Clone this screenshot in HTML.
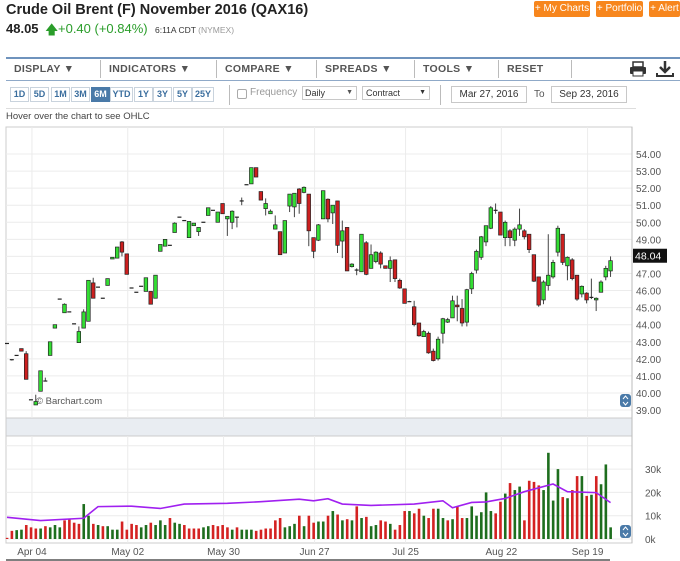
<!DOCTYPE html>
<html><head><meta charset="utf-8">
<style>
*{margin:0;padding:0;box-sizing:border-box}
body{width:680px;height:561px;overflow:hidden;background:#fff;font-family:"Liberation Sans",Arial,sans-serif;position:relative}
.a{position:absolute;white-space:nowrap}
.ob{position:absolute;top:1px;height:16px;background:#f7861d;color:#fff;font-size:10px;line-height:16px;text-align:center;border-radius:2px}
.tb{position:absolute;top:63px;font-size:10.5px;font-weight:bold;color:#555;letter-spacing:.3px}
.sep{position:absolute;top:60px;width:1px;height:18px;background:#bbb}
.rb{position:absolute;top:87px;height:15px;width:19px;border:1px solid #c9d3dd;font-size:9px;line-height:13px;text-align:center;color:#3b6e9e;font-weight:bold;background:#fff}
.box{position:absolute;border:1px solid #c8c8c8;font-size:10px;color:#333;background:#fff}
</style></head><body>
<div class="a" style="left:6px;top:2px;font-size:14.5px;font-weight:bold;color:#222">Crude Oil Brent (F) November 2016 (QAX16)</div>
<div class="a" style="left:6px;top:21px;font-size:13px;font-weight:bold;color:#222">48.05</div>
<div class="a" style="left:45px;top:21px;font-size:13px;color:#2a9d2a">&#129093;</div>
<div class="a" style="left:58px;top:21px;font-size:13px;color:#2a9d2a">+0.40 (+0.84%)</div>
<div class="a" style="left:155px;top:25px;font-size:8.5px;color:#333">6:11A CDT <span style="color:#999">(NYMEX)</span></div>
<div class="ob" style="left:534px;width:56px">+ My Charts</div>
<div class="ob" style="left:596px;width:47px">+ Portfolio</div>
<div class="ob" style="left:649px;width:31px">+ Alert</div>

<div class="a" style="left:6px;top:57px;width:674px;height:2px;background:#6f93bd"></div>
<div class="a" style="left:6px;top:80px;width:674px;height:1px;background:#8fa9c8"></div>
<div class="tb" style="left:14px">DISPLAY &#9660;</div>
<div class="sep" style="left:100px"></div>
<div class="tb" style="left:109px">INDICATORS &#9660;</div>
<div class="sep" style="left:216px"></div>
<div class="tb" style="left:225px">COMPARE &#9660;</div>
<div class="sep" style="left:316px"></div>
<div class="tb" style="left:325px">SPREADS &#9660;</div>
<div class="sep" style="left:414px"></div>
<div class="tb" style="left:423px">TOOLS &#9660;</div>
<div class="sep" style="left:498px"></div>
<div class="tb" style="left:507px">RESET</div>
<div class="sep" style="left:571px"></div>
<svg class="a" style="left:629px;top:61px" width="18" height="16"><rect x="4" y="1" width="10" height="5" fill="none" stroke="#333" stroke-width="1.5"/><rect x="1" y="6" width="16" height="7" rx="1" fill="#333"/><rect x="4" y="10" width="10" height="5" fill="#fff" stroke="#333"/></svg>
<svg class="a" style="left:656px;top:60px" width="18" height="18"><path d="M9 1v10M4 7l5 5 5-5" stroke="#333" stroke-width="2.5" fill="none"/><path d="M1 13v3h16v-3" stroke="#333" stroke-width="2" fill="none"/></svg>

<div class="rb" style="left:10px">1D</div>
<div class="rb" style="left:30px">5D</div>
<div class="rb" style="left:51px">1M</div>
<div class="rb" style="left:71px">3M</div>
<div class="rb" style="left:91px;background:#4a7aa8;color:#fff;border-color:#4a7aa8">6M</div>
<div class="rb" style="left:110px;width:23px">YTD</div>
<div class="rb" style="left:134px">1Y</div>
<div class="rb" style="left:153px">3Y</div>
<div class="rb" style="left:173px">5Y</div>
<div class="rb" style="left:192px;width:22px">25Y</div>
<div class="sep" style="left:229px;top:85px;height:20px"></div>
<div class="a" style="left:237px;top:89px;width:10px;height:10px;border:1px solid #aaa;border-radius:2px"></div>
<div class="a" style="left:250px;top:87px;font-size:10px;color:#999">Frequency</div>
<div class="box" style="left:302px;top:86px;width:55px;height:14px;padding-left:2px;line-height:12px;font-size:9px">Daily<span style="position:absolute;right:3px;font-size:7px;color:#555">&#9660;</span></div>
<div class="box" style="left:362px;top:86px;width:68px;height:14px;padding-left:3px;line-height:12px;font-size:9px">Contract<span style="position:absolute;right:3px;font-size:7px">&#9660;</span></div>
<div class="sep" style="left:440px;top:85px;height:20px"></div>
<div class="box" style="left:451px;top:86px;width:76px;height:17px;text-align:center;line-height:15px">Mar 27, 2016</div>
<div class="a" style="left:534px;top:89px;font-size:10px;color:#555">To</div>
<div class="box" style="left:551px;top:86px;width:76px;height:17px;text-align:center;line-height:15px">Sep 23, 2016</div>
<div class="a" style="left:6px;top:108px;width:630px;height:1px;background:#ddd"></div>
<div class="a" style="left:6px;top:111px;font-size:9.5px;color:#444">Hover over the chart to see OHLC</div>

<svg id="chart" class="a" style="left:0;top:0" width="680" height="561"></svg>

<script>
const opens=[42.9,41.95,42.2,42.6,42.3,39.6,39.3,40.1,40.7,42.2,43.8,45.5,44.7,44.75,44.05,42.95,43.8,44.2,46.45,46.2,45.55,46.3,47.85,47.9,48.85,48.15,46.15,45.9,46.25,45.95,45.95,45.55,48.3,48.6,48.65,49.4,50.3,50.1,49.1,49.8,49.45,50.0,50.4,50.7,50.0,51.1,50.2,50.0,50.3,51.25,52.2,52.25,53.2,51.8,50.8,50.5,49.6,49.45,48.2,50.95,50.9,51.95,51.75,51.65,49.1,48.95,50.2,51.35,50.55,51.25,48.9,49.7,47.4,47.2,47.1,48.8,47.3,47.7,48.2,47.45,47.3,47.8,46.6,46.1,45.35,45.05,44.1,43.3,43.5,42.45,42.0,43.5,44.15,44.4,45.15,44.95,44.15,46.1,47.2,47.95,48.85,49.65,50.7,50.6,49.1,49.5,48.95,49.6,49.5,49.3,48.1,46.8,45.45,46.3,46.8,48.25,49.3,47.45,47.8,46.9,45.8,45.85,45.6,45.45,45.9,46.8,47.15];
const highs=[42.9,41.95,42.2,42.6,42.45,39.6,39.9,41.3,40.9,43.0,44.0,45.5,45.25,44.75,44.05,43.9,44.9,46.6,46.75,46.2,45.55,46.7,47.95,48.55,48.9,48.15,46.15,45.9,46.25,46.75,45.95,46.9,48.7,49.0,48.65,50.0,50.3,50.1,50.05,49.95,49.7,50.0,50.85,50.7,50.6,51.1,50.35,50.7,50.3,51.45,52.2,53.2,53.2,51.8,51.4,50.75,50.4,49.45,50.1,51.65,51.7,52.0,52.1,51.65,49.1,49.9,51.85,51.4,51.0,51.25,50.1,49.7,47.6,47.3,49.3,48.9,48.7,48.3,48.3,47.45,48.0,47.8,46.7,46.1,45.4,45.4,44.1,43.7,43.6,42.6,43.3,44.4,44.4,45.7,45.7,45.5,46.1,47.1,48.4,49.2,49.8,50.95,51.1,50.6,50.1,49.6,49.7,50.8,49.6,49.3,48.1,46.8,46.6,49.3,47.8,49.8,49.3,48.0,47.9,46.9,46.3,45.9,46.7,45.6,46.6,47.45,48.0];
const lows=[42.9,41.9,42.2,42.45,40.8,39.6,39.3,40.1,40.7,42.2,43.8,45.5,44.7,44.75,44.05,42.95,43.8,44.2,45.55,46.2,45.55,46.3,47.85,47.9,48.0,46.95,46.15,45.9,46.25,45.95,45.2,45.55,48.3,48.6,48.65,49.4,50.3,50.1,49.1,49.8,49.2,50.0,50.4,50.7,50.0,50.5,49.2,49.6,49.7,51.0,52.2,52.25,52.65,51.3,50.4,50.5,49.6,48.1,48.2,50.6,50.3,50.5,51.7,48.6,47.9,48.9,50.2,50.0,49.9,48.2,47.9,47.15,47.35,46.9,47.1,46.9,47.3,47.6,47.3,47.3,46.5,46.5,46.1,45.25,45.35,43.9,43.3,43.3,42.3,41.85,41.9,42.9,44.1,44.4,44.2,43.9,43.9,45.8,47.0,47.8,48.6,49.6,50.5,49.25,48.6,48.6,48.6,49.2,49.0,48.2,46.5,45.05,45.2,46.0,46.7,48.0,47.5,46.6,46.6,45.4,45.6,45.25,45.5,44.8,45.9,46.6,46.8];
const closes=[42.9,41.9,42.2,42.45,40.8,39.6,39.5,41.3,40.7,43.0,44.0,45.5,45.2,44.75,44.05,43.6,44.75,46.6,45.55,46.2,45.55,46.7,47.95,48.55,48.25,46.95,46.15,45.9,46.25,46.75,45.2,46.9,48.7,49.0,48.65,49.95,50.3,50.1,50.05,49.95,49.7,50.0,50.85,50.7,50.6,50.5,50.35,50.65,50.3,51.25,52.2,53.2,52.65,51.3,51.1,50.65,49.85,48.1,50.1,51.65,51.7,51.1,52.05,49.5,48.3,49.85,51.85,50.2,51.0,48.65,49.5,47.15,47.55,47.2,49.3,46.95,48.1,48.25,47.55,47.3,47.75,46.7,46.15,45.25,45.35,44.0,43.35,43.6,42.35,41.9,43.15,44.35,44.3,45.4,45.05,44.1,46.05,47.0,48.3,49.15,49.8,50.85,50.7,49.25,50.0,49.1,49.6,49.85,49.15,48.4,46.55,45.15,46.5,46.9,47.65,49.65,47.65,47.95,46.7,45.5,46.25,45.45,45.6,45.55,46.5,47.3,47.75];
const volumes=[0.5,3.5,3.8,4,6,5,4.5,4.5,5.5,5,6,5,8,8.5,7,6.5,15,10,6.5,6,5.5,5.5,4,4,7.5,4,6.5,6,5,6,7,6,8,6,9,7,6.5,6,4.5,4.5,4.5,5,5.5,6,5.5,6,5,4,5,4,4,4,3.5,4,4.5,4.5,8,9,5,5.5,6.5,10,5.5,10,7,7.5,7.5,10,12,10.5,8,8.5,8,14,9,9.5,5.5,6,8,7.5,6.5,4,6,12,12,11,13,10,9,13,13,9,8,8.5,14,9,9,14,10,11.5,20,12,11,16,19.5,24,21,22.5,8,25,24.5,23,21,37,16.5,30,18,17.5,21,27,27,18.5,19,27,23.5,32,5];
const maIdx=[0,7,16,19,26,32,37,46,53,61,64,67,70,76,85,91,93,97,100,104,108,114,117,123,126];
const maVals=[9.3,7.9,8.9,13.9,14.1,13.1,15,15.3,16,17.1,16.4,17.3,15,14.4,15,16.4,13.4,15.7,15.9,17.4,20.3,23.6,20.3,19.9,15.6];
const priceTicks=[54,53,52,51,50,49,48,47,46,45,44,43,42,41,40,39];
const volTicks=[0,10,20,30];
const dateLabels=["Apr 04","May 02","May 30","Jun 27","Jul 25","Aug 22","Sep 19"];
const dateIdx=[5,25,45,64,83,103,121];
const lastValue=48.04;

const NS="http://www.w3.org/2000/svg";
const svg=document.getElementById('chart');
const PL=6,PR=632,PT=132,PB=418,VT=436,VB=543;
const xS=i=>7+i*4.79;
const yP=p=>154+(54-p)*17.07;
const yV=v=>539-v*2.33;
function mk(t,a,parent){const e=document.createElementNS(NS,t);for(const k in a)e.setAttribute(k,a[k]);(parent||svg).appendChild(e);return e;}

// frames
let f=mk('rect',{x:PL,y:127,width:PR-PL,height:PB-127,fill:'#fff',stroke:'#ccc'});


let band=mk('rect',{x:PL,y:PB,width:PR-PL,height:VT-PB,fill:'#e9edf2',stroke:'#ccc'});


let vf=mk('rect',{x:PL,y:VT,width:PR-PL,height:VB-VT,fill:'#fff',stroke:'#ccc'});



// grids
priceTicks.forEach(p=>{
 let l=mk('line',{x1:PL,x2:PR,y1:yP(p),y2:yP(p),stroke:'#ececec'});
 
 
 let t=mk('text',{x:636,y:yP(p)+4,'font-size':10,fill:'#555','font-family':'Liberation Sans, sans-serif'});
 
 
 t.textContent=p.toFixed(2);
});
volTicks.concat([40]).forEach(v=>{
 let l=mk('line',{x1:PL,x2:PR,y1:yV(v),y2:yV(v),stroke:'#ececec'});
 
 
});
volTicks.forEach(v=>{
 let t=mk('text',{x:645,y:yV(v)+4,'font-size':10,fill:'#555','font-family':'Liberation Sans, sans-serif'});
 
 
 t.textContent=v+'k';
});
dateIdx.forEach((d,k)=>{
 const x=xS(d)+1;
 let l=mk('line',{x1:x,x2:x,y1:127,y2:PB,stroke:'#ececec'});
 
 
 let l2=mk('line',{x1:x,x2:x,y1:VT,y2:VB,stroke:'#ececec'});
 
 
 let t=mk('text',{x:x,y:555,'font-size':10,fill:'#555','text-anchor':'middle','font-family':'Liberation Sans, sans-serif'});
 
 
 t.textContent=dateLabels[k];
});
let ax=mk('line',{x1:PR,x2:PR,y1:127,y2:VB,stroke:'#bbb'});


let bl=mk('line',{x1:PL,x2:610,y1:560,y2:560,stroke:'#555','stroke-width':1.5});



// watermark
let wm=mk('text',{x:36,y:404,'font-size':9.5,fill:'#555','font-family':'Liberation Sans, sans-serif'});


wm.textContent='\u00a9 Barchart.com';

// candles
opens.forEach((o,i)=>{
 const c=closes[i],h=highs[i],l=lows[i],x=xS(i);
 const g=mk('g',{});
 
 
 mk('line',{x1:x,x2:x,y1:yP(h),y2:yP(l),stroke:'#444','stroke-width':1},g);
 const top=yP(Math.max(o,c)),bot=yP(Math.min(o,c));
 if(bot-top<1){
  mk('line',{x1:x-2,x2:x+2,y1:top,y2:top,stroke:'#222','stroke-width':1.2},g);
 } else {
  const up=c>=o;
  mk('rect',{x:x-1.8,y:top,width:3.6,height:bot-top,fill:up?'#33dd33':'#cc1f1f',stroke:'#222','stroke-width':0.7},g);
 }
});

// last value label
let lv=mk('rect',{x:633,y:yP(lastValue)-7,width:34,height:14,fill:'#111'});


let lt=mk('text',{x:635,y:yP(lastValue)+4,'font-size':10.5,fill:'#fff','font-family':'Liberation Sans, sans-serif'});


lt.textContent=lastValue.toFixed(2);

// volume bars
volumes.forEach((v,i)=>{
 const up=i===0?false:closes[i]>=closes[i-1];
 let r=mk('rect',{x:xS(i)-1.2,y:yV(v),width:2.6,height:539-yV(v),fill:up?'#1e6e1e':'#d42222'});
 
 
});
// MA line
let pts=maIdx.map((d,k)=>xS(d)+','+yV(maVals[k])).join(' ');
let ma=mk('polyline',{points:pts,fill:'none',stroke:'#a020f0','stroke-width':1.6});



// scale widgets
[[620,400],[620,531]].forEach(p=>{
 let g=mk('g',{});
 
 
 mk('rect',{x:p[0],y:p[1]-6,width:11,height:13,rx:3,fill:'#4a7aa8'},g);
 mk('path',{d:`M${p[0]+3} ${p[1]-1}l2.5-3 2.5 3M${p[0]+3} ${p[1]+2}l2.5 3 2.5-3`,stroke:'#fff',fill:'none','stroke-width':1},g);
});
</script>
</body></html>
